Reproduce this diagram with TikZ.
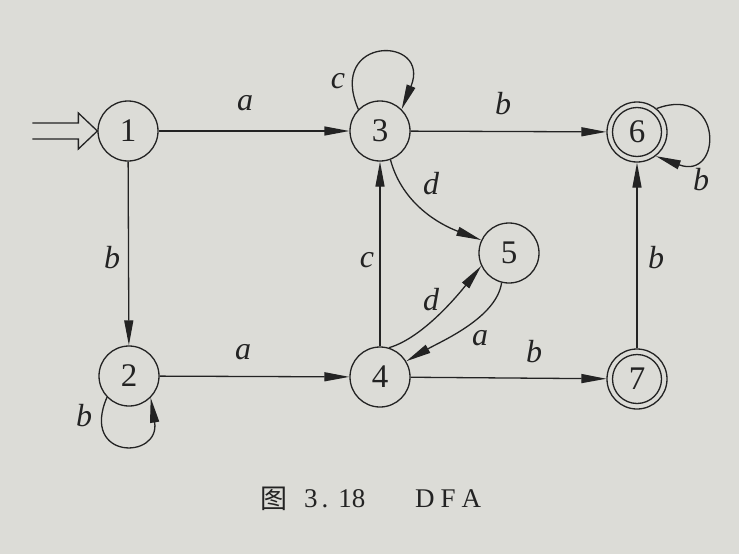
\documentclass[tikz,border=0pt]{standalone}
\usepackage{fontspec}
\setmainfont{Liberation Serif}
\newfontfamily\cjkfont{Noto Sans CJK SC}
\usetikzlibrary{arrows.meta}
\definecolor{paper}{RGB}{220,220,215}
\definecolor{ink}{RGB}{35,35,35}
\begin{document}
\begin{tikzpicture}[x=1pt,y=-1pt,
  state/.style={circle,draw=ink,line width=1.3pt,minimum size=60pt,inner sep=0pt,
    font=\fontsize{33}{35}\selectfont,text=ink},
  lbl/.style={font=\fontsize{32}{34}\selectfont\itshape,text=ink,inner sep=0pt},
  edge/.style={draw=ink,line width=1.3pt,-{Triangle[length=25pt,width=9pt]}},
  plain/.style={draw=ink,line width=1.3pt},
  captext/.style={font=\fontsize{27}{30}\selectfont,text=ink,inner sep=0pt,anchor=west},
]
\fill[paper] (0,0) rectangle (739,554);
\useasboundingbox (0,0) rectangle (739,554);

% states
\node[state] (n1) at (128,131) {1};
\node[state] (n3) at (380,131) {3};
\node[state] (n6) at (637,132) {6};
\node[state] (n5) at (509,253) {5};
\node[state] (n2) at (129,376) {2};
\node[state] (n4) at (380,377) {4};
\node[state] (n7) at (637,379) {7};
\draw[plain] (n6.center) circle[radius=24.5];
\draw[plain] (n7.center) circle[radius=24.5];

% start arrow
\draw[plain,line join=miter] (n1.west) ++(-65,-8) -- ++(46,0) -- ++(0,-10) -- (n1.west)
  -- ++(-19,18) -- ++(0,-10) -- ++(-46,0);

% straight edges
\draw[edge] (n1) -- (n3);
\draw[edge] (n3) -- (n6);
\draw[edge] (n1) -- (n2);
\draw[edge] (n2) -- (n4);
\draw[edge] (n4) -- (n7);
\draw[edge] (n7) -- (n6);
\draw[edge] (n4) -- (n3);

% curved edges
\draw[edge] (n3.-70) .. controls +(12,45) and +(-40,-15) .. (n5.155);
\draw[edge] (n4.73) .. controls +(35,-10) and +(-20,25) .. (n5.205);
\draw[edge] (n5.256) .. controls +(-5,35) and +(35,-20) .. (n4.31);

% loops
\draw[edge] (n3.135) .. controls +(-32,-74) and +(30,-74) .. (n3.45);
\draw[edge] (n6.50) .. controls +(67,-25) and +(67,25) .. (n6.-52);
\draw[edge] (n2.-136) .. controls +(-27,63) and +(10,62) .. (n2.-45);

% labels
\node[lbl] (l13) at (245,103) {a};
\node[lbl] (l33) at (338,81) {c};
\node[lbl] (l36) at (503,104) {b};
\node[lbl] (l66) at (701,180) {b};
\node[lbl] (l35) at (431,184) {d};
\node[lbl] (l12) at (112,258) {b};
\node[lbl] (l43) at (367,260) {c};
\node[lbl] (l45) at (431,300) {d};
\node[lbl] (l54) at (480,338) {a};
\node[lbl] (l47) at (534,352) {b};
\node[lbl] (l76) at (656,258) {b};
\node[lbl] (l24) at (243,352) {a};
\node[lbl] (l22) at (84,416) {b};

% caption
\node[captext] (c1) at (260,499) {\cjkfont 图};
\node[captext] (c2) at (304,499) {3\hspace{4pt}.\hspace{10pt}18};
\node[captext] (c3) at (415,499) {D\hspace{6pt}F\hspace{6pt}A};
\end{tikzpicture}
\end{document}
